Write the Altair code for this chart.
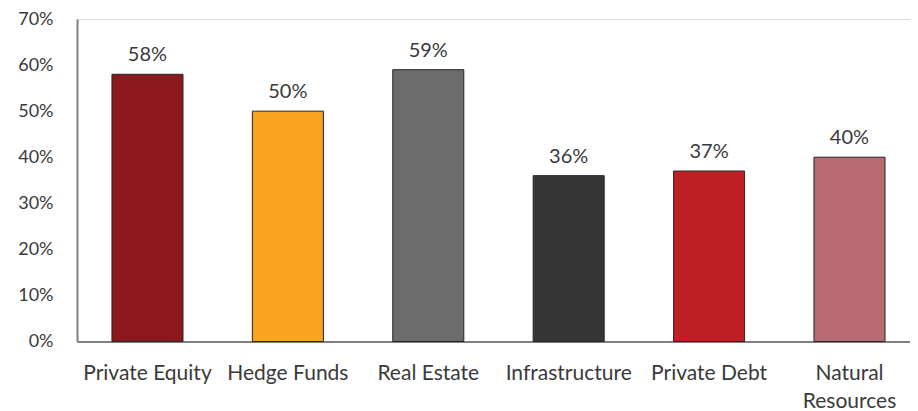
import altair as alt
import pandas as pd

categories = ["Private Equity", "Hedge Funds", "Real Estate", "Infrastructure", "Private Debt", "Natural Resources"]
values = [0.58, 0.50, 0.59, 0.36, 0.37, 0.40]
colors = ["#8A181C", "#F9A31F", "#6C6C6C", "#363636", "#BE2026", "#B96B73"]
y_ticks = [0, 0.1, 0.2, 0.3, 0.4, 0.5, 0.6, 0.7]

df = pd.DataFrame({"category": categories, "value": values})

FONT = "Lato"
TXT = "#3a3a3a"

x_enc = alt.X(
    "category:N",
    sort=categories,
    title=None,
    scale=alt.Scale(paddingInner=0.494, paddingOuter=0.2135, align=0.583),
    axis=alt.Axis(
        labelAngle=0,
        ticks=False,
        labelPadding=38,
        labelBaseline="alphabetic",
        labelFont=FONT,
        labelFontSize=21,
        labelColor=TXT,
        labelLineHeight=28,
        labelExpr="datum.label == 'Natural Resources' ? ['Natural', 'Resources'] : datum.label",
        domainColor="#808080",
        domainWidth=2,
        labelOverlap=False,
        labelLimit=300,
    ),
)

y_enc = alt.Y(
    "value:Q",
    title=None,
    scale=alt.Scale(domain=[0, 0.7], nice=False),
    axis=alt.Axis(
        values=y_ticks,
        format=".0%",
        ticks=False,
        grid=False,
        labelPadding=24,
        labelFont=FONT,
        labelFontSize=18,
        labelColor=TXT,
        domainColor="#808080",
        domainWidth=2,
    ),
)

bars = alt.Chart(df).mark_bar(stroke="#262626", strokeWidth=1).encode(
    x=x_enc,
    y=y_enc,
    color=alt.Color("category:N", scale=alt.Scale(domain=categories, range=colors), legend=None),
)

labels = alt.Chart(df).mark_text(
    baseline="alphabetic", dy=-13, font=FONT, fontSize=20, color=TXT
).encode(
    x=alt.X("category:N", sort=categories),
    y="value:Q",
    text=alt.Text("value:Q", format=".0%"),
)

chart = (
    alt.layer(bars, labels)
    .properties(
        width=833,
        height=322.5,
        autosize=alt.AutoSizeParams(type="none"),
        padding={"left": 69, "top": 11, "right": 0, "bottom": 70},
    )
    .configure_view(stroke=None)
    .configure(background="white")
)

chart.save("out.html", embed_options={"renderer": "svg", "actions": False})
